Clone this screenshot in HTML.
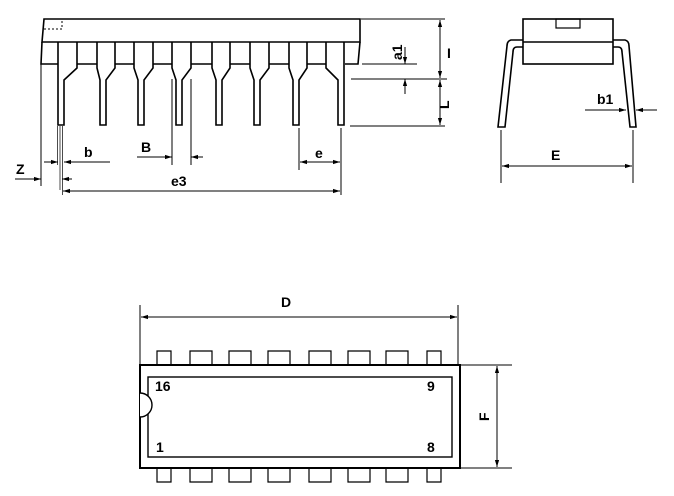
<!DOCTYPE html>
<html><head><meta charset="utf-8"><style>
html,body{margin:0;padding:0;background:#fff;}
svg{display:block;}
text{font-family:"Liberation Sans",sans-serif;font-weight:bold;font-size:14px;fill:#000;}
</style></head><body>
<svg width="674" height="496" viewBox="0 0 674 496" xmlns="http://www.w3.org/2000/svg">
<defs>
<marker id="a" viewBox="0 0 10 10" refX="10" refY="5" markerWidth="7" markerHeight="7" orient="auto-start-reverse"><path d="M0,2 L10,5 L0,8 z" fill="#000"/></marker>
</defs>
<g fill="none" stroke="#000" stroke-width="1.6">
<path d="M44,19 L360,19 L360,42 L42,42 Z"/>
<path d="M42,42 L41,64 L58,64 M77,64 L97,64 M115,64 L134,64 M153,64 L172,64 M191,64 L212,64 M230,64 L250,64 M269,64 L289,64 M307,64 L326,64 M345,64 L358,64 L360,42"/>
<path d="M44,29 L62,29 L62,19" stroke-dasharray="2,2" stroke-width="1"/>
<path d="M58,42 L58,125 L64,125 L64,80 L77,68 L77,42"/>
<path d="M97,42 L97,68 L100,80 L100,125 L106,125 L106,80 L115,68 L115,42"/>
<path d="M134,42 L134,68 L138,80 L138,125 L144,125 L144,80 L153,68 L153,42"/>
<path d="M172,42 L172,68 L176,80 L176,125 L182,125 L182,80 L191,68 L191,42"/>
<path d="M212,42 L212,68 L216,80 L216,125 L222,125 L222,80 L230,68 L230,42"/>
<path d="M250,42 L250,68 L254,80 L254,125 L260,125 L260,80 L269,68 L269,42"/>
<path d="M289,42 L289,68 L293,80 L293,125 L299,125 L299,80 L307,68 L307,42"/>
<path d="M326,42 L326,68 L338,80 L338,125 L344,125 L344,42"/>
</g>
<g fill="none" stroke="#000" stroke-width="1">
<path d="M41,64 L41,186 M172,79 L172,165 M191,79 L191,165 M299,128 L299,170 M341,128 L341,195"/>
<path d="M57.5,126 L57.5,165 M60,126 L60,190 M62.5,126 L62.5,195" stroke-width="0.7"/>
<path d="M15,179 L41,179" marker-end="url(#a)"/><path d="M72,179 L62,179" marker-end="url(#a)"/>
<path d="M44,162 L58,162" marker-end="url(#a)"/><path d="M110,162 L64,162" marker-end="url(#a)"/>
<path d="M137,157 L172,157" marker-end="url(#a)"/><path d="M203,157 L191,157" marker-end="url(#a)"/>
<path d="M300,162 L340,162" marker-start="url(#a)" marker-end="url(#a)"/>
<path d="M63,191 L340,191" marker-start="url(#a)" marker-end="url(#a)"/>
<path d="M361,19 L445,19 M362,64 L417,64 M351,79 L447,79 M350,126 L445,126"/>
<path d="M440,20 L440,78" marker-start="url(#a)" marker-end="url(#a)"/>
<path d="M440,80 L440,125" marker-start="url(#a)" marker-end="url(#a)"/>
<path d="M405,47 L405,64" marker-end="url(#a)"/><path d="M405,94 L405,79" marker-end="url(#a)"/>
<path d="M501,130 L501,183 M633,130 L633,183"/>
<path d="M502,166 L632,166" marker-start="url(#a)" marker-end="url(#a)"/>
<path d="M585,110 L626,110" marker-end="url(#a)"/><path d="M657,110 L636,110" marker-end="url(#a)"/>
<path d="M140,305 L140,365 M458,305 L458,365"/>
<path d="M141,317 L457,317" marker-start="url(#a)" marker-end="url(#a)"/>
<path d="M461,365 L512,365 M461,468 L512,468"/>
<path d="M497,366 L497,467" marker-start="url(#a)" marker-end="url(#a)"/>
</g>
<g fill="none" stroke="#000" stroke-width="1.6">
<rect x="523" y="19" width="90" height="45"/>
<path d="M523,42 L613,42"/>
<rect x="556" y="19" width="24" height="9" stroke-width="1.2"/>
<path d="M523,40 L511,40 Q507,41 507,46 L498,127 L505,127 L513,52 Q513,47 517,47 L523,47"/>
<path d="M613,40 L625,40 Q629,41 629,46 L636,127 L630,127 L622,52 Q622,47 618,47 L613,47"/>
<rect x="140" y="365" width="320" height="103" stroke-width="2"/>
<rect x="148" y="377" width="304" height="80" stroke-width="1.4"/>
<path d="M140,393 A12,12 0 0 1 140,417" fill="#fff" stroke-width="1.4"/>
<g stroke-width="1.2">
<path d="M157,365 V351 H171 V365 M190,365 V351 H212 V365 M229,365 V351 H251 V365 M268,365 V351 H290 V365 M309,365 V351 H331 V365 M348,365 V351 H370 V365 M386,365 V351 H408 V365 M427,365 V351 H441 V365"/>
<path d="M157,468 V482 H171 V468 M190,468 V482 H212 V468 M229,468 V482 H251 V468 M268,468 V482 H290 V468 M309,468 V482 H331 V468 M348,468 V482 H370 V468 M386,468 V482 H408 V468 M427,468 V482 H441 V468"/>
</g>
</g>
<text x="16" y="174">Z</text>
<text x="84" y="157">b</text>
<text x="141" y="152">B</text>
<text x="315" y="158">e</text>
<text x="171" y="186">e3</text>
<text x="447" y="58" font-size="15">I</text>
<text transform="translate(449,109) rotate(-90)">L</text>
<text transform="translate(402,60) rotate(-90)" font-size="12">a1</text>
<text x="551" y="160">E</text>
<text x="597" y="104">b1</text>
<text x="281" y="307">D</text>
<text transform="translate(489,421) rotate(-90)">F</text>
<text x="155" y="391" font-size="12">16</text>
<text x="427" y="391" font-size="12">9</text>
<text x="156" y="452" font-size="12">1</text>
<text x="427" y="452" font-size="12">8</text>
</svg>
</body></html>
